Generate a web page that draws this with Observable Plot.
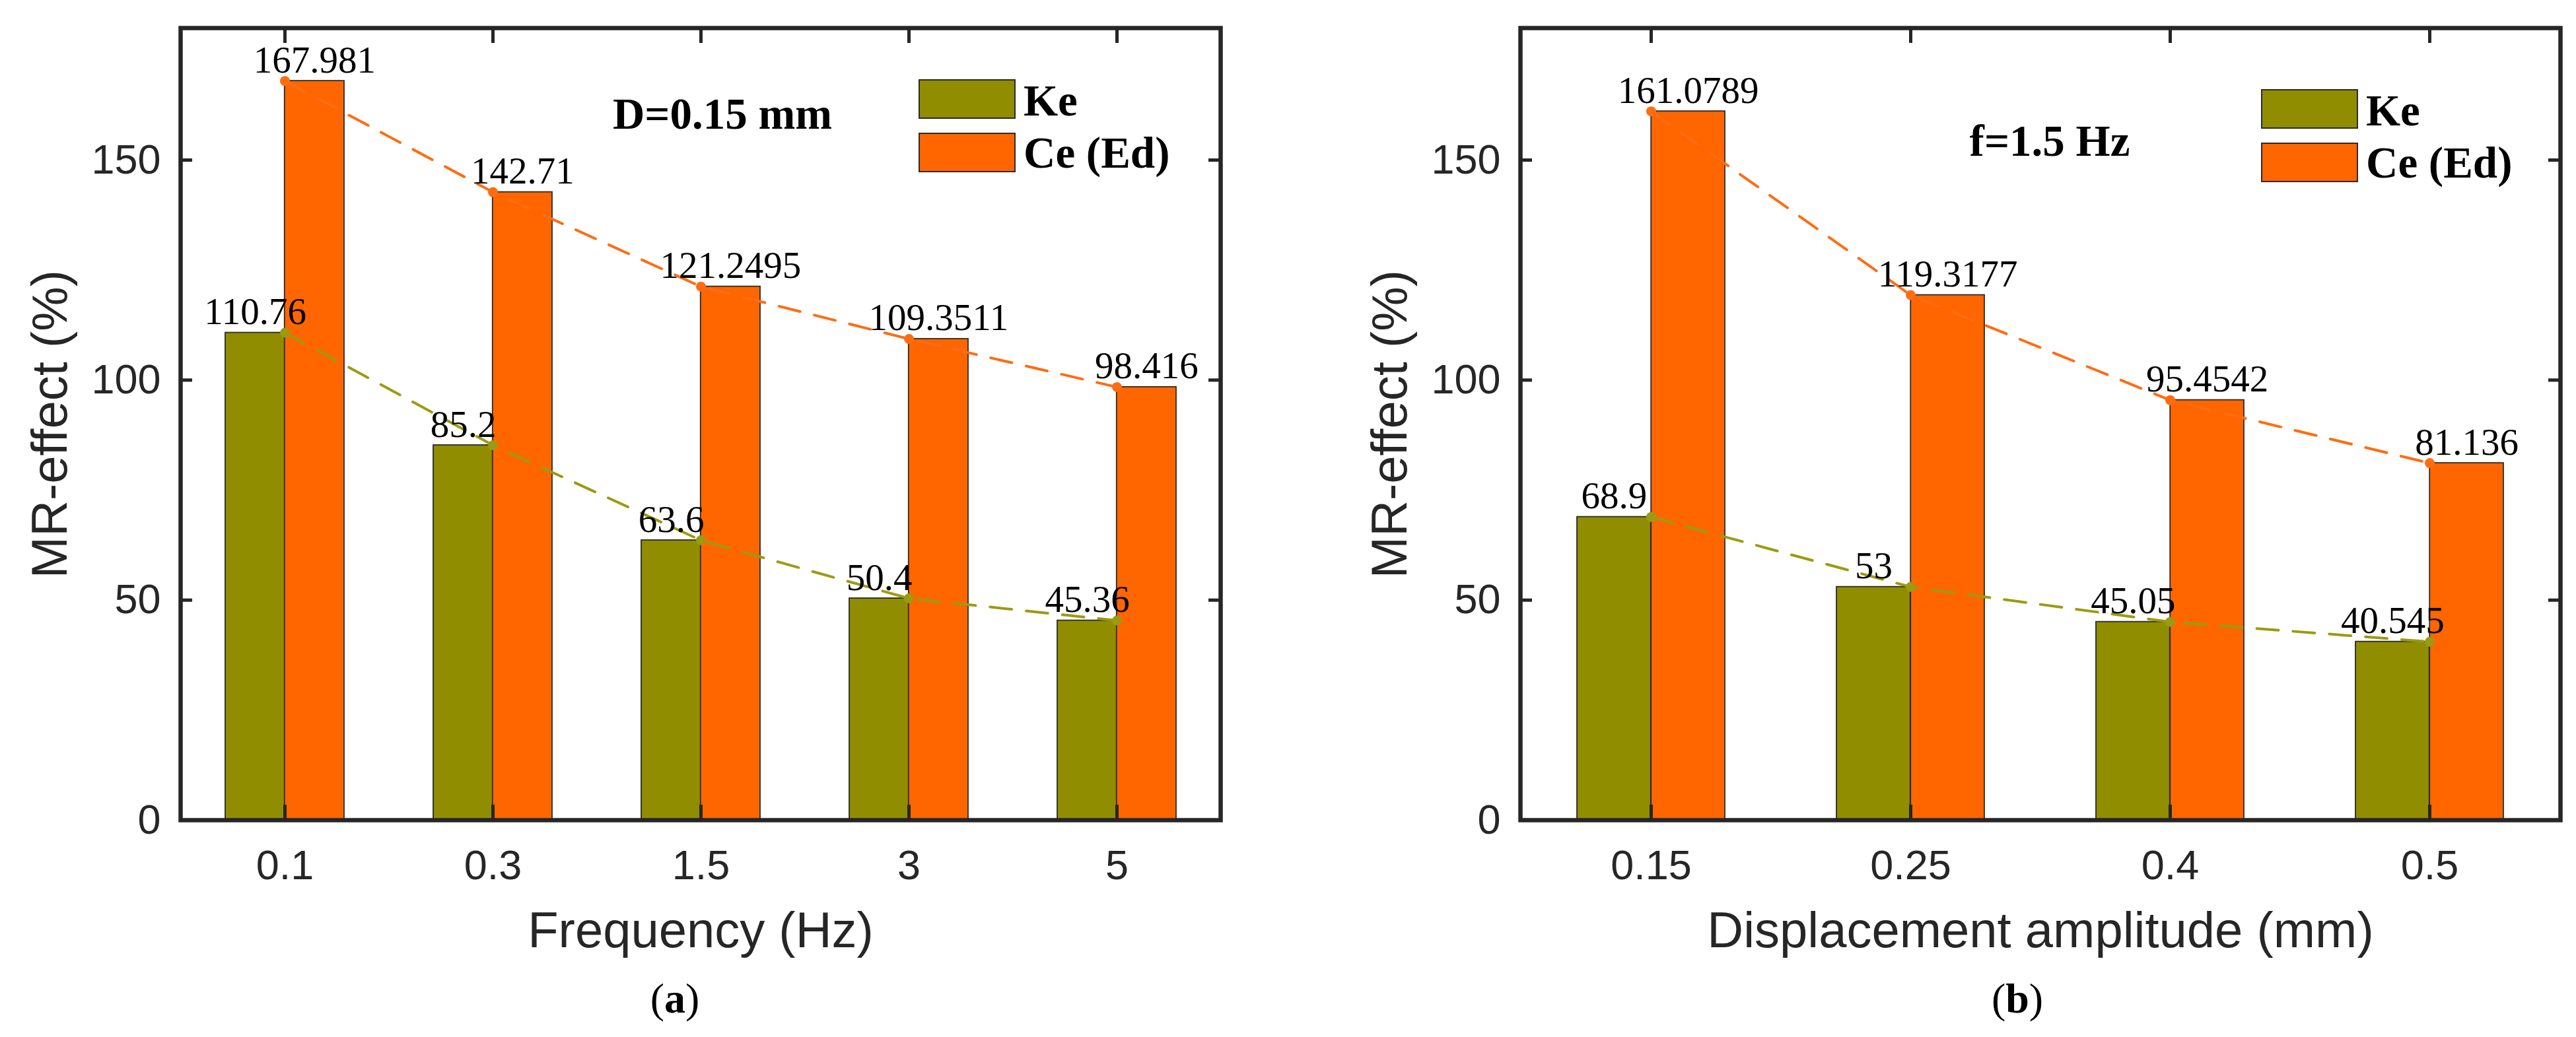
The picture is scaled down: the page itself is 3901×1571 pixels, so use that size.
<!DOCTYPE html>
<html>
<head>
<meta charset="utf-8">
<script src="https://cdn.jsdelivr.net/npm/d3@7"></script>
<script src="https://cdn.jsdelivr.net/npm/@observablehq/plot@0.6"></script>
<style>
  body { margin: 0; background: #fff; }
  #page { position: relative; width: 3901px; height: 1571px; overflow: hidden; background: #fff; }
  .panel { position: absolute; top: 0; }
  .box { position: absolute; border: 2px solid #2b2b2b; box-sizing: border-box; }
  .lab { position: absolute; font-family: "Liberation Serif", "Times New Roman", serif; font-weight: bold; line-height: 1; white-space: nowrap; color: #000; }
  .cap { position: absolute; font-family: "Liberation Serif", "Times New Roman", serif; font-size: 64px; line-height: 80px; height: 80px; width: 300px; text-align: center; color: #000; }
</style>
</head>
<body>
<div id="page">
  <div id="a" class="panel" style="left:0px;width:1950px"></div>
  <div id="b" class="panel" style="left:1950px;width:1951px"></div>
</div>
<script>
// panel (a): effect of frequency, D = 0.15 mm
const freqCats = ["0.1", "0.3", "1.5", "3", "5"];
const freqKe = [110.76, 85.2, 63.6, 50.4, 45.36];
const freqCe = [167.981, 142.71, 121.2495, 109.3511, 98.416];

// panel (b): effect of displacement amplitude, f = 1.5 Hz
const ampCats = ["0.15", "0.25", "0.4", "0.5"];
const ampKe = [68.9, 53, 45.05, 40.545];
const ampCe = [161.0789, 119.3177, 95.4542, 81.136];

const yTicks = [0, 50, 100, 150];
const seriesNames = ["Ke", "Ce (Ed)"];

const olive = "#908D00";
const oliveLine = "#9C9A10";
const orange = "#FF6600";
const orangeLine = "#FF6C12";
const ink = "#262626";

function drawPanel(el, cfg) {
  const rows = cfg.cats.map((c, i) => ({cat: c, ke: cfg.ke[i], ce: cfg.ce[i]}));
  const height = 1470, marginTop = 42, marginBottom = 228;
  const innerW = cfg.width - cfg.marginLeft - cfg.marginRight;
  const innerH = height - marginTop - marginBottom;
  const pIn = 0.43, pOut = 0.215;
  const bw = innerW / cfg.cats.length * (1 - pIn);

  const serif = "Liberation Serif, Times New Roman, serif";

  const chart = Plot.plot({
    width: cfg.width,
    height,
    marginTop,
    marginBottom,
    marginLeft: cfg.marginLeft,
    marginRight: cfg.marginRight,
    style: {fontFamily: "Liberation Sans, Arial, sans-serif", fontSize: "63px", color: ink, background: "white", overflow: "visible"},
    x: {type: "band", domain: cfg.cats, paddingInner: pIn, paddingOuter: pOut},
    y: {domain: [0, 180]},
    marks: [
      Plot.barY(rows, {x: "cat", y: "ke", fill: olive, stroke: "#2b2b2b", strokeWidth: 1.8, insetRight: bw / 2}),
      Plot.barY(rows, {x: "cat", y: "ce", fill: orange, stroke: "#2b2b2b", strokeWidth: 1.8, insetLeft: bw / 2}),
      Plot.line(rows, {x: "cat", y: "ke", stroke: oliveLine, strokeWidth: 4, strokeDasharray: "33,22"}),
      Plot.line(rows, {x: "cat", y: "ce", stroke: orangeLine, strokeWidth: 4, strokeDasharray: "33,22"}),
      Plot.dot(rows, {x: "cat", y: "ke", r: 7.5, fill: oliveLine}),
      Plot.dot(rows, {x: "cat", y: "ce", r: 7.5, fill: orangeLine}),
      Plot.text(rows, {x: "cat", y: "ke", text: d => String(d.ke), dx: -bw / 4, dy: -13, lineAnchor: "bottom",
        fontFamily: serif, fontSize: 57, fill: "#000"}),
      Plot.text(rows, {x: "cat", y: "ce", text: d => String(d.ce), dx: bw / 4, dy: -13, lineAnchor: "bottom",
        fontFamily: serif, fontSize: 57, fill: "#000"}),
      // inward ticks on all four sides
      Plot.ruleX(cfg.cats, {x: d => d, insetTop: innerH - 23, stroke: ink, strokeWidth: 5}),
      Plot.ruleX(cfg.cats, {x: d => d, insetBottom: innerH - 23, stroke: ink, strokeWidth: 5}),
      Plot.ruleY(yTicks, {y: d => d, insetRight: innerW - 18, stroke: ink, strokeWidth: 5}),
      Plot.ruleY(yTicks, {y: d => d, insetLeft: innerW - 18, stroke: ink, strokeWidth: 5}),
      Plot.axisX({tickSize: 0, tickPadding: 45, label: null, fill: ink}),
      Plot.axisY({ticks: yTicks, tickSize: 0, tickPadding: 30, label: null, fill: ink}),
      Plot.text([cfg.xLabel], {text: d => d, frameAnchor: "bottom", dy: 192, lineAnchor: "bottom", fontSize: 76, fill: ink}),
      Plot.text(["MR-effect (%)"], {text: d => d, frameAnchor: "left", dx: -226, rotate: -90, lineAnchor: "top",
        textAnchor: "middle", fontSize: 76, fill: ink}),
      Plot.frame({stroke: ink, strokeWidth: 6.5})
    ]
  });
  el.append(chart);

  // legend (two swatches + bold serif labels)
  const colors = [olive, orange];
  seriesNames.forEach((name, i) => {
    const box = document.createElement("div");
    box.className = "box";
    box.style.cssText = `left:${cfg.legend.x}px;top:${cfg.legend.y + i * 81}px;width:147px;height:60px;background:${colors[i]}`;
    el.append(box);
    const t = document.createElement("div");
    t.className = "lab";
    t.style.cssText = `left:${cfg.legend.x + 159}px;top:${cfg.legend.y - 1 + i * 79}px;font-size:67px`;
    t.textContent = name;
    el.append(t);
  });

  const note = document.createElement("div");
  note.className = "lab";
  note.style.cssText = `left:${cfg.note.x - 300}px;width:600px;text-align:center;top:${cfg.note.y}px;font-size:67px`;
  note.textContent = cfg.note.text;
  el.append(note);

  const cap = document.createElement("div");
  cap.className = "cap";
  cap.style.cssText = `left:${cfg.capX - 150}px;top:1473px`;
  cap.innerHTML = `(<b>${cfg.cap}</b>)`;
  el.append(cap);
}

drawPanel(document.getElementById("a"), {
  cats: freqCats, ke: freqKe, ce: freqCe,
  width: 1950, marginLeft: 273, marginRight: 102,
  xLabel: "Frequency (Hz)",
  legend: {x: 1391, y: 120},
  note: {text: "D=0.15 mm", x: 1094, y: 139},
  cap: "a", capX: 1022
});

drawPanel(document.getElementById("b"), {
  cats: ampCats, ke: ampKe, ce: ampCe,
  width: 1951, marginLeft: 352, marginRight: 24,
  xLabel: "Displacement amplitude (mm)",
  legend: {x: 1474, y: 135},
  note: {text: "f=1.5 Hz", x: 1154, y: 180},
  cap: "b", capX: 1105
});
</script>
</body>
</html>
